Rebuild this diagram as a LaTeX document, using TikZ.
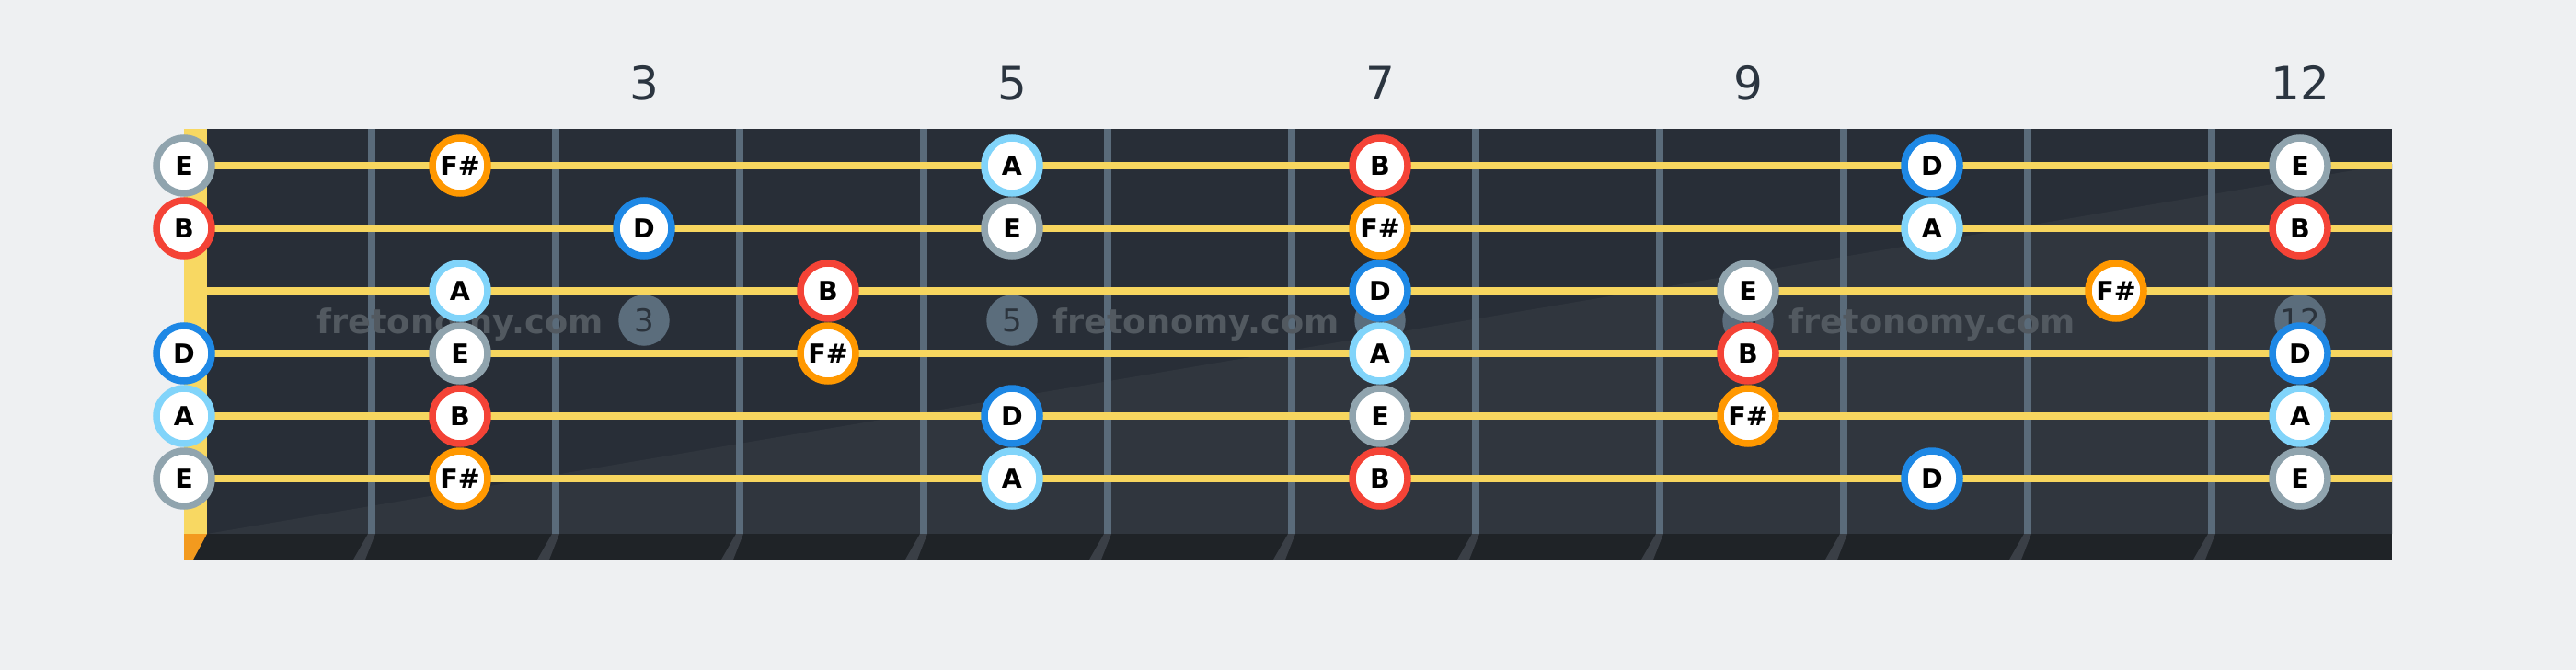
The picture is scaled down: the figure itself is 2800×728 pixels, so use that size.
\documentclass[tikz,border=0pt]{standalone}
\usepackage{fontspec}
\setmainfont{DejaVu Sans}
\definecolor{bgc}{HTML}{EEF0F2}
\definecolor{boardtop}{HTML}{282E37}
\definecolor{boardlow}{HTML}{30363E}
\definecolor{stripc}{HTML}{1F2327}
\definecolor{nutc}{HTML}{F8D862}
\definecolor{nutshadow}{HTML}{F39A1E}
\definecolor{fretc}{HTML}{5A6B7A}
\definecolor{fretshadow}{HTML}{3A3F46}
\definecolor{stringc}{HTML}{F7D65F}
\definecolor{dotc}{HTML}{5B6D7C}
\definecolor{dotnum}{HTML}{2B333C}
\definecolor{markc}{HTML}{525960}
\definecolor{numc}{HTML}{2B3540}
\definecolor{edgec}{HTML}{8A9299}
\definecolor{cE}{HTML}{90A4AE}
\definecolor{cFs}{HTML}{FF9800}
\definecolor{cA}{HTML}{81D4FA}
\definecolor{cB}{HTML}{F44336}
\definecolor{cD}{HTML}{1E88E5}
\def\lblE{E}\def\lblFs{F\#}\def\lblA{A}\def\lblB{B}\def\lblD{D}
\tikzset{
  notecircle/.style={circle, fill=white, line width=7.5pt, minimum size=60pt, inner sep=0pt,
    font=\bfseries\fontsize{28.5}{28.5}\selectfont, text=black},
  inlay/.style={circle, fill=dotc, minimum size=55.5pt, inner sep=0pt,
    font=\fontsize{34}{34}\selectfont, text=dotnum},
  fretnum/.style={anchor=base, font=\fontsize{50}{50}\selectfont, text=numc, inner sep=0pt},
  watermark/.style={anchor=base, font=\bfseries\fontsize{36.7}{36.7}\selectfont, text=markc, inner sep=0pt},
  stringline/.style={draw=stringc, line width=8pt}
}
\begin{document}
\begin{tikzpicture}[x=1pt,y=-1pt]
\useasboundingbox (0,0) rectangle (2800,728);
\fill[bgc] (0,0) rectangle (2800,728);
% board
\fill[boardtop] (225,140) rectangle (2600,580);
\fill[boardlow] (225,580) -- (2600,178) -- (2600,580) -- cycle;
\fill[stripc] (200,580) rectangle (2600,608);
\draw[edgec, line width=1.5pt] (200,608.5) -- (2600,608.5);
% nut
\fill[nutc] (200,140) rectangle (225,580);
\fill[nutshadow] (200,580) -- (225,580) -- (210,608) -- (200,608) -- cycle;
% frets
\foreach \k in {1,...,11}{
  \pgfmathsetmacro\fx{200*\k+200}
  \fill[fretc] (\fx,140) rectangle (\fx+8,580);
  \fill[fretshadow] (\fx,580) -- (\fx+8,580) -- (\fx-3,608) -- (\fx-16,608) -- cycle;
}
% inlays
\foreach \f in {3,5,7,9,12}{
  \node[inlay] (dot\f) at ({100+200*\f},348) {\f};
  \node[fretnum] (num\f) at ({100+200*\f},108) {\f};
}
% watermarks
\node[watermark] (wm1) at (500,362) {fretonomy.com};
\node[watermark] (wm2) at (1300,362) {fretonomy.com};
\node[watermark] (wm3) at (2100,362) {fretonomy.com};
% strings
\foreach \s in {1,...,6}{
  \coordinate (sL\s) at (225,{112+68*\s});
  \coordinate (sR\s) at (2600,{112+68*\s});
  \draw[stringline] (sL\s) -- (sR\s);
}
% notes
\foreach \s/\f/\c in {
  1/0/E, 1/2/Fs, 1/5/A, 1/7/B, 1/10/D, 1/12/E,
  2/0/B, 2/3/D, 2/5/E, 2/7/Fs, 2/10/A, 2/12/B,
  3/2/A, 3/4/B, 3/7/D, 3/9/E, 3/11/Fs,
  4/0/D, 4/2/E, 4/4/Fs, 4/7/A, 4/9/B, 4/12/D,
  5/0/A, 5/2/B, 5/5/D, 5/7/E, 5/9/Fs, 5/12/A,
  6/0/E, 6/2/Fs, 6/5/A, 6/7/B, 6/10/D, 6/12/E}{
  \pgfmathsetmacro\xx{ifthenelse(\f==0,200,100+200*\f)}
  \node[notecircle, draw=c\c] (n\s-\f) at (\xx,{112+68*\s}) {\csname lbl\c\endcsname};
}
\end{tikzpicture}
\end{document}
